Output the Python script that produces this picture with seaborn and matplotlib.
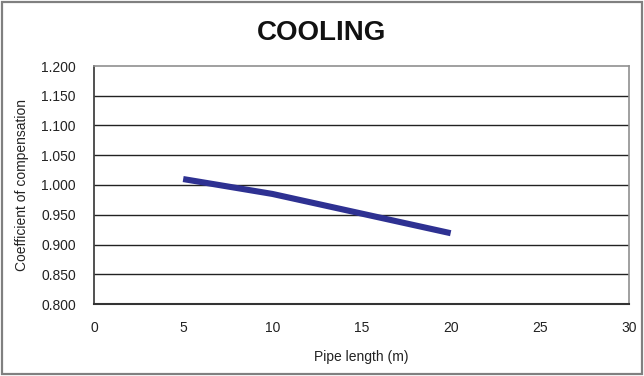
import numpy as np
import pandas as pd
import matplotlib
matplotlib.use("Agg")
import matplotlib.pyplot as plt
import seaborn as sns
from matplotlib.patches import Rectangle

# values
pipe_length = [5, 10, 15, 20]
coefficient = [1.010, 0.985, 0.952, 0.919]
x_ticks = [0, 5, 10, 15, 20, 25, 30]
y_ticks = [0.800, 0.850, 0.900, 0.950, 1.000, 1.050, 1.100, 1.150, 1.200]

df = pd.DataFrame({"Pipe length (m)": pipe_length, "coef": coefficient})

sns.set_style("white")
plt.rcParams["font.family"] = ["Liberation Sans", "DejaVu Sans"]

fig = plt.figure(figsize=(6.44, 3.76), dpi=100)
ax = fig.add_axes([94 / 644, 1 - 304 / 376, 535 / 644, 238 / 376])

# horizontal grid lines
for y in y_ticks[1:-1]:
    ax.axhline(y, color="#222222", lw=1.0, zorder=1)

sns.lineplot(data=df, x="Pipe length (m)", y="coef", ax=ax,
             color="#2E3192", lw=4.4, zorder=3)
for ln in ax.lines:
    ln.set_solid_capstyle("butt")

ax.set_xlim(0, 30)
ax.set_ylim(0.8, 1.2)
ax.set_xticks(x_ticks)
ax.set_yticks(y_ticks)
ax.set_yticklabels([f"{v:.3f}" for v in y_ticks])
ax.tick_params(axis="x", direction="in", length=4, width=1, colors="#222222",
               labelsize=10, pad=12, labelcolor="#222222")
ax.tick_params(axis="y", direction="out", length=3, width=1, colors="#222222",
               labelsize=10, pad=10, labelcolor="#222222")

for side, sp in ax.spines.items():
    sp.set_color("#909090")
    sp.set_linewidth(1.2)
ax.spines["left"].set_color("#333333")
ax.spines["bottom"].set_color("#333333")
ax.spines["bottom"].set_linewidth(1.5)

ax.set_xlabel("Pipe length (m)", fontsize=10, color="#222222", labelpad=11)
ax.set_ylabel("Coefficient of compensation", fontsize=10, color="#222222", labelpad=9)

fig.text(0.5, 1 - 33 / 376, "COOLING", ha="center", va="center",
         fontsize=20, fontweight="bold", color="#111111")

# outer frame of the chart
fig.patches.append(Rectangle((2 / 644, 2 / 376), 640 / 644, 372 / 376,
                             transform=fig.transFigure, fill=False,
                             edgecolor="#808080", lw=1.6))

fig.savefig("out.png", dpi=100)
